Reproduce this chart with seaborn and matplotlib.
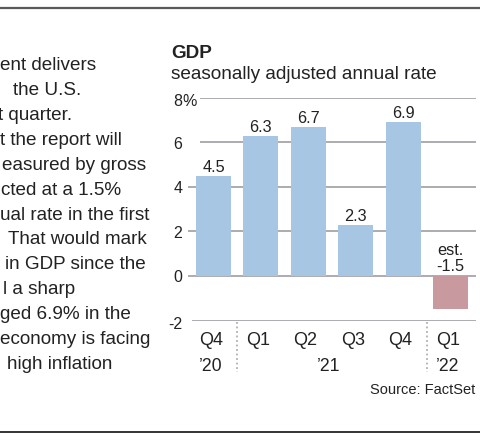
import matplotlib
matplotlib.use("Agg")
import matplotlib.pyplot as plt
from matplotlib.transforms import blended_transform_factory
import seaborn as sns

# ---- data ----
quarter_keys = ["Q4 '20", "Q1 '21", "Q2 '21", "Q3 '21", "Q4 '21", "Q1 '22"]
quarter_labels = ["Q4", "Q1", "Q2", "Q3", "Q4", "Q1"]
gdp_values = [4.5, 6.3, 6.7, 2.3, 6.9, -1.5]
value_labels = ["4.5", "6.3", "6.7", "2.3", "6.9", "est.\n-1.5"]
year_labels = ["\u201920", "\u201921", "\u201922"]
year_positions = [0, 2.5, 5]
separator_positions = [0.5, 4.5]
y_ticks = [8, 6, 4, 2, 0, -2]
y_tick_labels = ["8", "6", "4", "2", "0", "-2"]
bar_colors = ["#a6c6e3", "#a6c6e3", "#a6c6e3", "#a6c6e3", "#a6c6e3", "#c89aa0"]

title = "GDP"
subtitle = "seasonally adjusted annual rate"
source = "Source: FactSet"
story_lines = [
    "ent delivers", "the U.S.", "t quarter.", "t the report will",
    "easured by gross", "cted at a 1.5%", "ual rate in the first",
    "That would mark", "in GDP since the", "l a sharp",
    "ged 6.9% in the", "economy is facing", "high inflation",
]
story_x = [0, 13, -2.3, 0.5, 2, 1, 0, 8.3, 5, 3.3, 0, 0, 7.3]

# ---- style ----
plt.rcParams["font.family"] = ["Liberation Sans", "DejaVu Sans"]
TXT = "#222222"
GRID = "#ababb0"

W, H = 481, 442
fig = plt.figure(figsize=(W / 100, H / 100), dpi=100)

def fx(px):
    return px / W

def fy(py):
    return 1 - py / H

ax_left, ax_right, ax_top, ax_bottom = 188, 476.5, 97.7, 320.6
ax = fig.add_axes([fx(ax_left), fy(ax_bottom), fx(ax_right - ax_left),
                   (ax_bottom - ax_top) / H])

sns.barplot(x=quarter_keys, y=gdp_values, hue=quarter_keys, palette=bar_colors,
            width=0.738, saturation=1, legend=False, ax=ax, zorder=2)

ax.set_ylim(-2, 8)
ax.set_xlim(-0.538, 5.549)
for s in ax.spines.values():
    s.set_visible(False)
ax.set_xticks([])
ax.set_yticks([])
ax.set_xlabel("")
ax.set_ylabel("")
ax.patch.set_alpha(0)

# gridlines with individual start points
grid_start = {8: 200.7, 6: 200.7, 4: 188.3, 2: 188.3, 0: 188.3, -2: 193}
for t in y_ticks:
    ax.axhline(t, xmin=(grid_start[t] - ax_left) / (ax_right - ax_left), xmax=1,
               color=GRID, lw=1.4, zorder=1)

# y tick labels (numbers right aligned, % hangs)
ty = blended_transform_factory(fig.transFigure, ax.transData)
px_per_unit = (ax_bottom - ax_top) / 10
for t, lab in zip(y_ticks, y_tick_labels):
    off = 8 if t in (8, -2) else 6.3
    ax.text(fx(182.5), t - off / px_per_unit, lab, transform=ty, ha="right",
            va="baseline", fontsize=11.5, color=TXT)
    if t == 8:
        ax.text(fx(182.5), t - off / px_per_unit, "%", transform=ty, ha="left",
                va="baseline", fontsize=11.5, color=TXT)

# value labels
for i, (v, lab) in enumerate(zip(gdp_values, value_labels)):
    base = max(v, 0)
    ax.annotate(lab, (i, base), xytext=(0, 0.6 if v > 0 else 1.2),
                textcoords="offset points", ha="center", va="bottom",
                fontsize=11.7, color=TXT, linespacing=1.1)

# x labels
tx = blended_transform_factory(ax.transData, fig.transFigure)
for i, lab in enumerate(quarter_labels):
    ax.text(i - 0.06, fy(345), lab, transform=tx, ha="center", va="baseline",
            fontsize=13, color=TXT)
for p, lab in zip(year_positions, year_labels):
    ax.text(p - 0.06, fy(371), lab, transform=tx, ha="center", va="baseline",
            fontsize=12.7, color=TXT)
for p in separator_positions:
    ax.plot([p, p], [fy(322), fy(372)], transform=tx, color="#b0b0b0",
            lw=1.3, ls=(0, (1, 1.5)), clip_on=False)

# titles and source
fig.text(fx(171), fy(58), title, fontsize=13.6, fontweight="bold", color=TXT,
         va="baseline", ha="left")
fig.text(fx(171), fy(79), subtitle, fontsize=13.7, color=TXT, va="baseline",
         ha="left")
fig.text(fx(475), fy(394.5), source, fontsize=10.5, color=TXT, va="baseline",
         ha="right")

# left story text (clipped at left edge)
for i, (line, x) in enumerate(zip(story_lines, story_x)):
    fig.text(fx(x), fy(65 + 24.85 * i + 5.5), line, fontsize=13.6, color=TXT,
             va="baseline", ha="left")

# rules
fig.add_artist(plt.Line2D([0, 1], [fy(7.5), fy(7.5)], color="#5a5a5a", lw=1.6,
                          transform=fig.transFigure))
fig.add_artist(plt.Line2D([0, 1], [fy(431.5), fy(431.5)], color="#333333",
                          lw=1.4, transform=fig.transFigure))

fig.savefig("out.png", dpi=100)
